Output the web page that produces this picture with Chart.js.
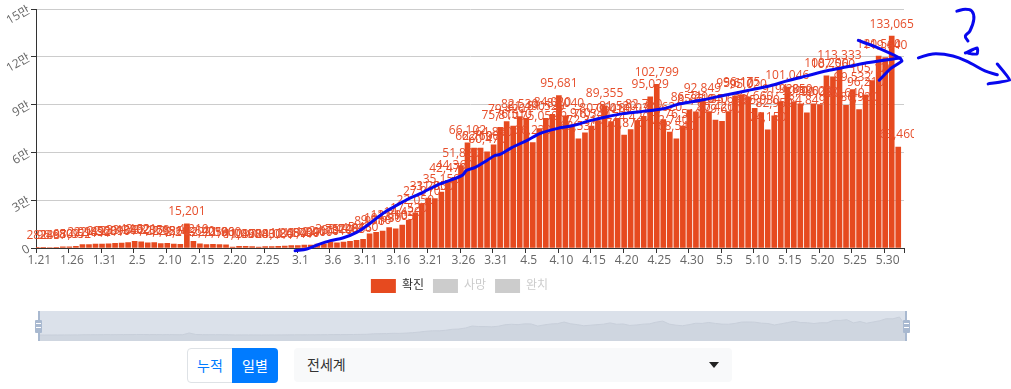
<!DOCTYPE html>
<html lang="ko">
<head>
<meta charset="utf-8">
<title>일별 확진</title>
<script src="https://cdn.jsdelivr.net/npm/chart.js@4/dist/chart.umd.min.js"></script>
<style>
    body { margin: 0; background: #fff; font-family: "Open Sans", "Noto Sans CJK KR", sans-serif; }
    #mainChart { position: absolute; left: 0; top: 0; }
    #sliderChart { position: absolute; left: 38px; top: 311px; background: #dbe1ea; }
    .edge { position: absolute; top: 311px; width: 2px; height: 30px; background: #a9b9d0; }
    .handle { position: absolute; top: 320px; width: 7px; height: 13px; background: #a9b9d0; border-radius: 1px; }
    .handle i { display: block; height: 1px; margin: 3px 1px 3px; background: #fff; }
    .btn { position: absolute; top: 348px; height: 35px; line-height: 33px; box-sizing: border-box; text-align: center; font-size: 14px; font-family: "Noto Sans CJK KR", sans-serif; }
    #btnTotal { left: 187px; width: 46px; color: #007bff; background: #fff; border: 1px solid #dee2e6; border-radius: 4px 0 0 4px; }
    #btnDaily { left: 232px; width: 46px; color: #fff; background: #007bff; border-radius: 0 4px 4px 0; line-height: 35px; }
    #region { position: absolute; left: 294px; top: 348px; width: 438px; height: 34px; background: #f8f9fa; border-radius: 4px; color: #333; font-size: 14px; line-height: 33px; text-indent: 13px; font-family: "Noto Sans CJK KR", sans-serif; }
    #region b { position: absolute; right: 13px; top: 14px; border-left: 5px solid transparent; border-right: 5px solid transparent; border-top: 6px solid #222; }
</style>
</head>
<body>
<canvas id="mainChart" width="1011" height="303"></canvas>
<canvas id="sliderChart" width="868" height="30"></canvas>
<div class="edge" style="left:38px"></div>
<div class="edge" style="left:905px"></div>
<div class="handle" style="left:35px"><i></i><i></i></div>
<div class="handle" style="left:903px"><i></i><i></i></div>
<div class="btn" id="btnTotal">누적</div>
<div class="btn" id="btnDaily">일별</div>
<div id="region">전세계<b></b></div>
<script>
// Daily chart data
const days = [
    '1.21','1.22','1.23','1.24','1.25','1.26','1.27','1.28','1.29','1.30',
    '1.31','2.1','2.2','2.3','2.4','2.5','2.6','2.7','2.8','2.9',
    '2.10','2.11','2.12','2.13','2.14','2.15','2.16','2.17','2.18','2.19',
    '2.20','2.21','2.22','2.23','2.24','2.25','2.26','2.27','2.28','2.29',
    '3.1','3.2','3.3','3.4','3.5','3.6','3.7','3.8','3.9','3.10',
    '3.11','3.12','3.13','3.14','3.15','3.16','3.17','3.18','3.19','3.20',
    '3.21','3.22','3.23','3.24','3.25','3.26','3.27','3.28','3.29','3.30',
    '3.31','4.1','4.2','4.3','4.4','4.5','4.6','4.7','4.8','4.9',
    '4.10','4.11','4.12','4.13','4.14','4.15','4.16','4.17','4.18','4.19',
    '4.20','4.21','4.22','4.23','4.24','4.25','4.26','4.27','4.28','4.29',
    '4.30','5.1','5.2','5.3','5.4','5.5','5.6','5.7','5.8','5.9',
    '5.10','5.11','5.12','5.13','5.14','5.15','5.16','5.17','5.18','5.19',
    '5.20','5.21','5.22','5.23','5.24','5.25','5.26','5.27','5.28','5.29',
    '5.30','5.31','6.1'
];
const confirmed = [
    282, 96, 288, 497, 680, 809, 1052, 2094, 2189, 2432,
    2520, 2601, 2890, 3124, 3380, 4162, 3921, 3205, 3368, 2712,
    2986, 2510, 2243, 15201, 4210, 2640, 2205, 2230, 2180, 1960,
    610, 1040, 1090, 870, 620, 840, 830, 1080, 1260, 1480,
    1540, 1790, 1890, 2410, 2670, 3752, 3310, 3748, 4205, 4816,
    5430, 8970, 9810, 10630, 12890, 12105, 14420, 17520, 22050, 27910,
    31280, 31050, 35150, 42470, 44360, 51820, 66102, 62710, 62690, 60470,
    64830, 75810, 79420, 76510, 82530, 81490, 66230, 75050, 81520, 84020,
    95681, 83040, 76910, 68530, 72310, 76540, 80060, 89355, 79410, 81520,
    70870, 74420, 80030, 82710, 95029, 102799, 80620, 72740, 68540, 76510,
    86720, 85610, 92849, 85640, 80420, 79610, 85630, 95610, 96175, 95020,
    87660, 85030, 74150, 82950, 91920, 101046, 91850, 90580, 84849, 90620,
    90030, 108200, 107560, 113333, 89640, 99532, 86920, 96210, 105120, 120540,
    119640, 133065, 63460
];
const seriesNames = ['확진', '사망', '완치'];
const yTicks = [0, 30000, 60000, 90000, 120000, 150000];

// Hand drawn marks on top of the chart: [day position, people]
const inkTrend = [
    [39.7,-1700],[41.5,-600],[43.1,1900],[45.1,4600],[47,6300],[49.2,10000],[51.2,15600],[53.2,21900],
    [55.3,26900],[57.3,31300],[59.3,35000],[61.4,39400],[63.4,42500],[65.3,45600],[66,48800],[67.3,50600],
    [69.1,55000],[70.3,58100],[71.1,58800],[72.9,63100],[75.2,67500],[77.2,71900],[79.8,75000],[82.3,76900],
    [84.9,80000],[87.5,82500],[89.9,84400],[92.6,85600],[96.1,87500],[98.7,90600],[102.2,93100],[105.9,96300],
    [108.9,98800],[112.5,101900],[115.1,105000],[118.1,108100],[121.2,111300],[124.3,113800],[127.3,116300],[132.4,119400]
];
const inkArrowHead = [[126,130400],[128.3,126900],[132.4,119200],[132.7,117500],[130.9,112500],[129.2,105400]];
const inkQuestion = [[141.1,148800],[142.4,150000],[143.4,148800],[143.7,143800],[143.1,136300],[142.4,133100],[142.8,130000]];
const inkQuestionDot = [[142.4,122500],[144.2,125600],[144.2,121900],[142.8,122500],[143.7,125000]];
const inkArrowRight = [[135.2,119400],[137.4,121900],[140.5,120600],[143.1,116300],[145.4,111300],[147.3,108800]];
const inkArrowRightHead = [[147.3,115600],[149.2,105600],[145.9,103100]];

const RED = '#e64a1f';
const BASE_FONT = '"Open Sans", "Noto Sans CJK KR", sans-serif';

function inkDataset(points, tension) {
    return {
        type: 'line',
        xAxisID: 'xInk',
        order: 0,
        data: points.map(p => ({ x: p[0], y: p[1] })),
        borderColor: '#0808ee',
        borderWidth: 3,
        borderCapStyle: 'round',
        borderJoinStyle: 'round',
        pointRadius: 0,
        tension: tension,
        clip: false
    };
}

// draws the value above each bar, right after the bars so the ink stays on top
const barValueLabels = {
    id: 'barValueLabels',
    afterDatasetDraw(chart, args) {
        if (args.index !== 0) return;
        const ctx = chart.ctx;
        ctx.save();
        ctx.beginPath();
        ctx.rect(0, 0, 914, chart.height);
        ctx.clip();
        ctx.font = '12px ' + BASE_FONT;
        ctx.fillStyle = '#e64f2c';
        ctx.textAlign = 'center';
        ctx.textBaseline = 'bottom';
        args.meta.data.forEach((bar, i) => {
            ctx.fillText(confirmed[i].toLocaleString('en-US'), bar.x, bar.y - 6);
        });
        ctx.restore();
    }
};

// the legend sits a little right of the plot centre
const legendNudge = {
    id: 'legendNudge',
    afterLayout(chart) {
        chart.legend.left += 7.5;
        chart.legend.right += 7.5;
    }
};

function initMainChart() {
    const mainCtx = document.getElementById('mainChart');
    new Chart(mainCtx.getContext('2d'), {
        type: 'bar',
        plugins: [barValueLabels, legendNudge],
        data: {
            labels: days,
            datasets: [
                { label: seriesNames[0], data: confirmed, backgroundColor: RED, borderWidth: 0, order: 1, barThickness: 5 },
                { label: seriesNames[1], data: [], hidden: true, order: 2 },
                { label: seriesNames[2], data: [], hidden: true, order: 3 },
                inkDataset(inkTrend, 0.3),
                inkDataset(inkArrowHead, 0.1),
                inkDataset(inkQuestion, 0.4),
                inkDataset(inkQuestionDot, 0.2),
                inkDataset(inkArrowRight, 0.4),
                inkDataset(inkArrowRightHead, 0.1)
            ]
        },
        options: {
            responsive: false,
            animation: false,
            layout: { padding: { left: 0, right: 107, top: 8, bottom: 0 } },
            plugins: {
                tooltip: { enabled: false },
                legend: {
                    position: 'bottom',
                    onClick: null,
                    labels: {
                        boxWidth: 25,
                        boxHeight: 14,
                        padding: 9,
                        useBorderRadius: true,
                        borderRadius: 3,
                        font: { size: 12, family: BASE_FONT },
                        generateLabels: () => seriesNames.map((name, i) => ({
                            text: name,
                            fillStyle: i === 0 ? RED : '#ccc',
                            strokeStyle: i === 0 ? RED : '#ccc',
                            lineWidth: 0,
                            fontColor: i === 0 ? '#333' : '#ccc',
                            datasetIndex: i,
                            hidden: false
                        }))
                    }
                }
            },
            scales: {
                x: {
                    offset: true,
                    afterFit: scale => { scale.height = 22; },
                    grid: {
                        offset: true,
                        drawOnChartArea: false,
                        tickLength: 5,
                        tickColor: c => (c.index === undefined || c.index % 5 === 0) ? '#333' : 'rgba(0,0,0,0)'
                    },
                    border: { color: '#333' },
                    ticks: {
                        autoSkip: false,
                        maxRotation: 0,
                        padding: 0,
                        color: '#666',
                        font: { size: 12, family: BASE_FONT },
                        callback: function(value, index) {
                            return index % 5 === 0 ? days[index] : '';
                        }
                    }
                },
                // bar charts default their x axes to offset, the ink axis must not be.
                // limits are set after the fact: a user max would cut the strokes right of the plot
                xInk: {
                    type: 'linear',
                    axis: 'x',
                    display: false,
                    offset: false,
                    bounds: 'data',
                    afterDataLimits: scale => { scale.min = 0; scale.max = days.length; }
                },
                y: {
                    min: 0,
                    max: yTicks[yTicks.length - 1],
                    afterFit: scale => { scale.width = 36; },
                    afterBuildTicks: scale => { scale.ticks = yTicks.map(v => ({ value: v })); },
                    grid: { color: '#ccc', tickColor: '#333', tickLength: 5 },
                    border: { color: '#333' },
                    ticks: {
                        minRotation: 30,
                        maxRotation: 30,
                        padding: 2,
                        color: '#666',
                        font: { size: 12, family: BASE_FONT },
                        callback: function(value) {
                            return value === 0 ? '0' : (value / 10000) + '만';
                        }
                    }
                }
            }
        }
    });
}

// Overview strip under the chart
function initSliderChart() {
    const sliderCtx = document.getElementById('sliderChart');
    new Chart(sliderCtx.getContext('2d'), {
        type: 'line',
        data: {
            labels: days,
            datasets: [{
                data: confirmed,
                borderColor: '#c8cfda',
                borderWidth: 1,
                backgroundColor: '#cfd6e0',
                fill: 'start',
                pointRadius: 0,
                tension: 0
            }]
        },
        options: {
            responsive: false,
            animation: false,
            plugins: { legend: { display: false }, tooltip: { enabled: false } },
            scales: {
                x: { display: false },
                y: { display: false, min: -44000, max: 177000 }
            }
        }
    });
}

initMainChart();
initSliderChart();
</script>
</body>
</html>
